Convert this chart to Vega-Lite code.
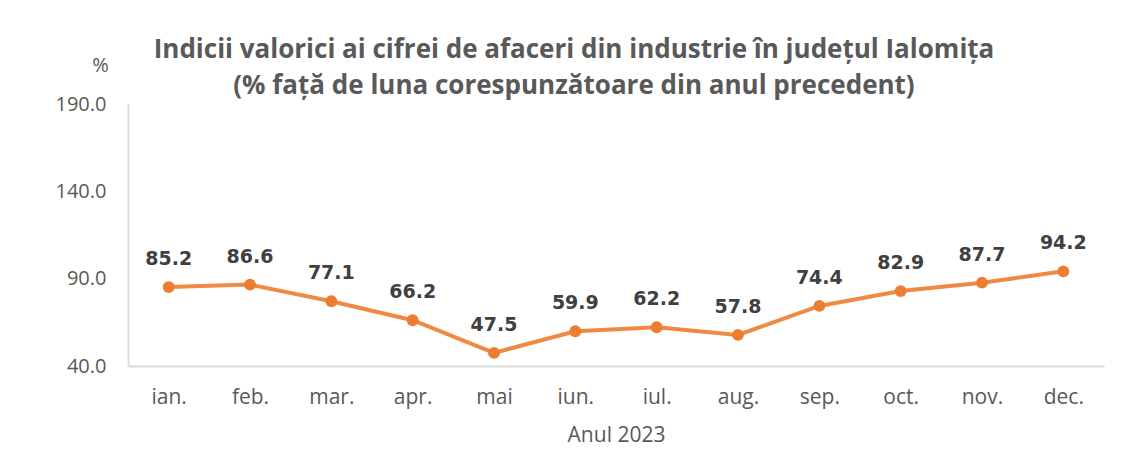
{
  "$schema": "https://vega.github.io/schema/vega-lite/v6.json",
  "autosize": "none",
  "width": 976,
  "height": 262,
  "padding": {"left": 128, "top": 104, "right": 22, "bottom": 84},
  "background": "white",
  "config": {
    "view": {"stroke": null},
    "font": "Open Sans"
  },
  "title": {
    "text": ["Indicii valorici ai cifrei de afaceri din industrie în județul Ialomița", "(% față de luna corespunzătoare din anul precedent)"],
    "font": "Open Sans",
    "fontSize": 26,
    "fontWeight": "bold",
    "color": "#595959",
    "lineHeight": 36,
    "anchor": "middle",
    "frame": "group",
    "dx": -42,
    "dy": 64,
    "offset": 20
  },
  "data": {
    "values": [
      {"luna": "ian.", "v": 85.2},
      {"luna": "feb.", "v": 86.6},
      {"luna": "mar.", "v": 77.1},
      {"luna": "apr.", "v": 66.2},
      {"luna": "mai", "v": 47.5},
      {"luna": "iun.", "v": 59.9},
      {"luna": "iul.", "v": 62.2},
      {"luna": "aug.", "v": 57.8},
      {"luna": "sep.", "v": 74.4},
      {"luna": "oct.", "v": 82.9},
      {"luna": "nov.", "v": 87.7},
      {"luna": "dec.", "v": 94.2}
    ]
  },
  "encoding": {
    "x": {
      "field": "luna", "type": "nominal", "sort": null,
      "scale": {"paddingInner": 0, "paddingOuter": 0},
      "axis": {
        "title": "Anul 2023", "titleFont": "Open Sans", "titleFontSize": 21, "titleFontWeight": "normal", "titleColor": "#595959", "titlePadding": 17,
        "labelAngle": 0, "labelFontSize": 21, "labelColor": "#595959", "labelPadding": 20,
        "ticks": false, "domainColor": "#d9d9d9", "domainWidth": 2, "grid": false
      }
    },
    "y": {
      "field": "v", "type": "quantitative",
      "scale": {"domain": [40, 190], "nice": false, "zero": false},
      "axis": {
        "values": [40, 90, 140, 190], "format": ".1f",
        "title": "%", "titleAngle": 0, "titleFontSize": 20, "titleFontWeight": "normal", "titleColor": "#595959",
        "titleX": -28, "titleY": -33, "titleAlign": "center", "titleBaseline": "alphabetic",
        "labelFontSize": 20, "labelColor": "#595959", "labelPadding": 22,
        "ticks": false, "domainColor": "#d6e0f0", "domainWidth": 2, "grid": false
      }
    }
  },
  "layer": [
    {"mark": {"type": "line", "color": "#F08A43", "strokeWidth": 4}},
    {"mark": {"type": "point", "filled": true, "opacity": 1, "color": "#ED7D31", "size": 140}},
    {
      "mark": {"type": "text", "dy": -22, "baseline": "alphabetic", "fontSize": 19, "fontWeight": "bold", "color": "#404040", "font": "DejaVu Sans"},
      "encoding": {"text": {"field": "v", "type": "quantitative", "format": ".1f"}}
    }
  ]
}
